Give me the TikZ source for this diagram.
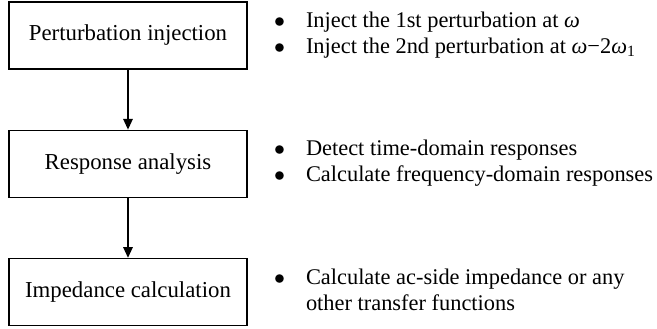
\documentclass[tikz,border=0pt]{standalone}
\usepackage{fontspec}
\setmainfont{Liberation Serif}
\usetikzlibrary{arrows.meta}
\usetikzlibrary{positioning}
\tikzstyle{block} = [rectangle, minimum width=119pt, minimum height=33.5pt,
text centered, draw=black, line width=0.6pt]
\tikzstyle{notes} = [inner sep=0pt, anchor=west, align=left, font=\fontsize{11.2}{13}\selectfont]
\tikzstyle{arrow} = [line width=0.7pt,-{Triangle[width=4.8pt,length=5.4pt]}]

\begin{document}
\begin{tikzpicture}[node distance=30pt, font=\fontsize{11.4}{13}\selectfont]
  \useasboundingbox (0,0) rectangle (328.5pt,-164pt);
  \node (inject) [block] at (64pt,-17.75pt) {Perturbation injection};
  \node (response) [block, below=of inject] {Response analysis};
  \node (impedance) [block, below=of response] {Impedance calculation};

  \node (inject-notes) [notes, right=13pt of inject] {\begin{tabular}{@{}p{16pt}@{}l@{}}
    $\bullet$ & Inject the 1st perturbation at \textit{ω}\\
    $\bullet$ & Inject the 2nd perturbation at \textit{ω}−2\textit{ω}\textsubscript{1}
  \end{tabular}};
  \node (response-notes) [notes, right=13pt of response] {\begin{tabular}{@{}p{16pt}@{}l@{}}
    $\bullet$ & Detect time-domain responses\\
    $\bullet$ & Calculate frequency-domain responses
  \end{tabular}};
  \node (impedance-notes) [notes, right=13pt of impedance] {\begin{tabular}{@{}p{16pt}@{}l@{}}
    $\bullet$ & Calculate ac-side impedance or any\\
              & other transfer functions
  \end{tabular}};

  \draw[arrow] (inject.south) -- (response.north);
  \draw[arrow] (response.south) -- (impedance.north);
\end{tikzpicture}
\end{document}
